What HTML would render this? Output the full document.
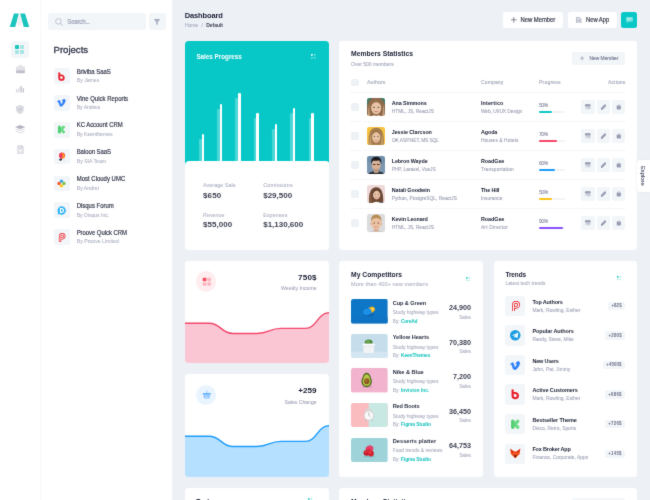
<!DOCTYPE html>
<html>
<head>
<meta charset="utf-8">
<title>Dashboard</title>
<style>
*{box-sizing:border-box;margin:0;padding:0}
html,body{width:650px;height:500px;overflow:hidden}
body{background:#edf0f5;font-family:"Liberation Sans",sans-serif;color:#181c32;position:relative}
#w{position:absolute;left:0;top:0;width:650px;height:500px;overflow:hidden;background:#edf0f5;will-change:transform;transform:translateZ(0);filter:url(#soft)}
.abs{position:absolute}
.t{position:absolute;white-space:nowrap;line-height:1}
</style>
</head>
<body>
<svg width="0" height="0" style="position:absolute"><defs><filter id="soft" x="0" y="0" width="100%" height="100%" color-interpolation-filters="sRGB"><feConvolveMatrix order="3" kernelMatrix="0.02 0.065 0.02 0.065 0.66 0.065 0.02 0.065 0.02" divisor="1" edgeMode="duplicate" preserveAlpha="true"/></filter></defs></svg>
<div id="w">
<div class="abs" style="left:0.00px;top:0.00px;width:41.00px;height:500.00px;background:#fff;border-radius:0px;"></div>
<div class="abs" style="left:40.00px;top:0.00px;width:0.60px;height:500.00px;background:#f8f9fb;border-radius:0px;"></div>
<svg class="abs" style="left:8.90px;top:12.70px;" preserveAspectRatio="none" width="21" height="14.4" viewBox="0 0 42 31"><path d="M19 2 L23 2 L27 21 L21 29 L15 21 Z" fill="#eeeef2" opacity=".8"/><path d="M10 1 L19.5 1 L12.5 30 L1.5 30 Z" fill="#1bc5bd"/><path d="M22.5 1 L32 1 L40.5 30 L29.5 30 Z" fill="#1bc5bd"/></svg>
<div class="abs" style="left:11.20px;top:40.50px;width:17.40px;height:17.10px;background:#f3f6f9;border-radius:2.5px;"></div>
<svg class="abs" style="left:15.40px;top:44.80px;" width="9" height="9" viewBox="0 0 18 18"><rect x="0" y="0" width="8" height="8" rx="1.5" fill="#1bc5bd"/><rect x="10" y="0" width="8" height="8" rx="1.5" fill="#1bc5bd" opacity=".35"/><rect x="0" y="10" width="8" height="8" rx="1.5" fill="#1bc5bd" opacity=".35"/><rect x="10" y="10" width="8" height="8" rx="1.5" fill="#1bc5bd" opacity=".35"/></svg>
<svg class="abs" style="left:15.50px;top:65.00px;" width="9" height="8.5" viewBox="0 0 18 17"><path d="M6 3 V1.5 Q6 0.5 7 0.5 H11 Q12 0.5 12 1.5 V3" fill="none" stroke="#b5b5c3" stroke-width="1.4" opacity=".7"/><rect x="0" y="3" width="18" height="9" rx="2" fill="#b5b5c3" opacity=".4"/><path d="M0 11 H18 V14.5 Q18 16.5 16 16.5 H2 Q0 16.5 0 14.5 Z" fill="#b5b5c3" opacity=".85"/></svg>
<svg class="abs" style="left:16.00px;top:86.30px;" width="8.2" height="6.4" viewBox="0 0 16 12.5"><rect x="0" y="6" width="2.4" height="6.5" rx="1" fill="#b5b5c3" opacity=".55"/><rect x="4.4" y="3" width="2.4" height="9.5" rx="1" fill="#b5b5c3" opacity=".55"/><rect x="8.8" y="0" width="2.4" height="12.5" rx="1" fill="#b5b5c3"/><rect x="13.2" y="4" width="2.4" height="8.5" rx="1" fill="#b5b5c3" opacity=".85"/></svg>
<svg class="abs" style="left:16.20px;top:104.80px;" width="7.8" height="9.2" viewBox="0 0 16 19"><path d="M0 2.5 L8 0 L16 2.5 V9 Q16 15.5 8 19 Q0 15.5 0 9 Z" fill="#b5b5c3" opacity=".5"/><path d="M5 9 L7.3 11 L11.3 7" fill="none" stroke="#b5b5c3" stroke-width="1.8" stroke-linecap="round"/></svg>
<svg class="abs" style="left:15.10px;top:125.00px;" width="10.2" height="9" viewBox="0 0 19 17"><path d="M9.5 0 L19 4 L9.5 8 L0 4 Z" fill="#b5b5c3"/><path d="M0 8 L9.5 12 L19 8 L16.5 7 L9.5 10 L2.5 7 Z" fill="#b5b5c3" opacity=".45"/><path d="M0 12 L9.5 16 L19 12 L16.5 11 L9.5 14 L2.5 11 Z" fill="#b5b5c3" opacity=".45"/></svg>
<svg class="abs" style="left:16.80px;top:144.80px;" width="7" height="9.2" viewBox="0 0 14 18"><path d="M2 0 H9 L14 5 V16 Q14 18 12 18 H2 Q0 18 0 16 V2 Q0 0 2 0 Z" fill="#b5b5c3" opacity=".4"/><path d="M9 0 L14 5 H10.5 Q9 5 9 3.5 Z" fill="#b5b5c3" opacity=".6"/><rect x="3" y="10.5" width="8" height="2" rx="1" fill="#fff"/><rect x="6" y="9.5" width="2" height="4" rx="1" fill="#fff" opacity=".6"/></svg>
<div class="abs" style="left:40.50px;top:0.00px;width:131.50px;height:500.00px;background:#fff;border-radius:0px;"></div>
<div class="abs" style="left:47.60px;top:13.00px;width:98.40px;height:17.00px;background:#f3f6f9;border-radius:2.5px;"></div>
<svg class="abs" style="left:54.50px;top:17.50px;" width="8" height="8" viewBox="0 0 16 16"><circle cx="6.8" cy="6.8" r="5.6" fill="none" stroke="#a4a8bd" stroke-width="1.3"/><path d="M11 11 L14.6 14.6" stroke="#a4a8bd" stroke-width="1.5" stroke-linecap="round"/></svg>
<div class="t" style="left:67.30px;top:19.07px;font-size:6.1px;color:#9da0b6;letter-spacing:-0.202px;-webkit-text-stroke:0.18px #9da0b6;transform:scaleY(1.09);">Search...</div>
<div class="abs" style="left:148.60px;top:13.00px;width:17.00px;height:17.00px;background:#f3f6f9;border-radius:2.5px;"></div>
<svg class="abs" style="left:154.20px;top:18.60px;" width="6" height="6" viewBox="0 0 12 12"><path d="M0.5 0 H11.5 Q12.4 0.6 11.6 1.6 L7.6 6 V11 Q7 12.2 6 11.6 L4.4 10.4 V6 L0.4 1.6 Q-0.4 0.6 0.5 0 Z" fill="#a9adc1"/></svg>
<div class="t" style="left:53.50px;top:45.11px;font-size:9.6px;color:#2f3347;letter-spacing:-0.011px;-webkit-text-stroke:0.28px #2f3347;">Projects</div>
<div class="abs" style="left:53.70px;top:68.20px;width:16.00px;height:15.70px;background:#f3f6f9;border-radius:2px;"></div>
<svg class="abs" style="left:57.40px;top:71.60px;" width="9" height="9" viewBox="0 0 10 10"><path d="M2.5 1.2 V6.3 A2.5 2.5 0 1 0 5 3.8 H4.1" fill="none" stroke="#e9212d" stroke-width="2.1" stroke-linecap="round"/></svg>
<div class="t" style="left:76.70px;top:69.65px;font-size:5.95px;color:#2f3347;letter-spacing:-0.027px;-webkit-text-stroke:0.16px #2f3347;transform:scaleY(1.09);">Briviba SaaS</div>
<div class="t" style="left:76.70px;top:78.34px;font-size:5.2px;color:#adb0c2;letter-spacing:-0.018px;-webkit-text-stroke:0.08px #adb0c2;transform:scaleY(1.09);">By James</div>
<div class="abs" style="left:53.70px;top:95.05px;width:16.00px;height:15.70px;background:#f3f6f9;border-radius:2px;"></div>
<svg class="abs" style="left:57.40px;top:98.45px;" width="9" height="9" viewBox="0 0 10 10"><path d="M0.5 3.9 Q2.2 1.6 3.2 3 Q3.8 4 4.3 6.6 Q4.5 7.4 5.2 6.6 Q7 4.4 6.7 3.6 Q6.4 3 5.4 3.5 Q6.4 0.9 8.4 1.4 Q10.3 2.2 8.4 5.6 Q6.2 9.4 4.4 9.4 Q3 9.4 2.4 6.8 Q1.9 4.6 1.5 4.4 Q1.2 4.3 0.9 4.5 Z" fill="#2f80fa" stroke="#2f80fa" stroke-width=".5" stroke-linejoin="round"/></svg>
<div class="t" style="left:76.70px;top:96.50px;font-size:5.95px;color:#2f3347;letter-spacing:0.021px;-webkit-text-stroke:0.16px #2f3347;transform:scaleY(1.09);">Vine Quick Reports</div>
<div class="t" style="left:76.70px;top:105.19px;font-size:5.2px;color:#adb0c2;letter-spacing:-0.074px;-webkit-text-stroke:0.08px #adb0c2;transform:scaleY(1.09);">By Andrea</div>
<div class="abs" style="left:53.70px;top:121.90px;width:16.00px;height:15.70px;background:#f3f6f9;border-radius:2px;"></div>
<svg class="abs" style="left:57.40px;top:125.30px;" width="9" height="9" viewBox="0 0 10 10"><path d="M7.3 2.2 L4.6 5 L7.3 7.8" fill="none" stroke="#69db86" stroke-width="3.2" stroke-linecap="round" stroke-linejoin="round"/><rect x="1" y="0.5" width="3.4" height="9" rx="1.7" fill="#55cf74"/></svg>
<div class="t" style="left:76.70px;top:123.35px;font-size:5.95px;color:#2f3347;letter-spacing:-0.015px;-webkit-text-stroke:0.16px #2f3347;transform:scaleY(1.09);">KC Account CRM</div>
<div class="t" style="left:76.70px;top:132.04px;font-size:5.2px;color:#adb0c2;letter-spacing:-0.059px;-webkit-text-stroke:0.08px #adb0c2;transform:scaleY(1.09);">By Keenthemes</div>
<div class="abs" style="left:53.70px;top:148.75px;width:16.00px;height:15.70px;background:#f3f6f9;border-radius:2px;"></div>
<svg class="abs" style="left:57.40px;top:152.15px;" width="9" height="9" viewBox="0 0 10 10"><circle cx="5.6" cy="4" r="3.4" fill="#f2355f"/><path d="M4.9 0.8 Q7.3 3.4 5.4 7.2 Q7.2 7.4 8.3 6 Q9.4 2.6 6.2 0.7 Z" fill="#fa9f1c"/><path d="M2.3 8 L3.6 7.2 L5.6 7.6 V8.8 Q4.2 10 2.9 9.4 Z" fill="#2f3448"/><circle cx="8" cy="9" r=".6" fill="#c9ccd8"/></svg>
<div class="t" style="left:76.70px;top:150.20px;font-size:5.95px;color:#2f3347;letter-spacing:-0.044px;-webkit-text-stroke:0.16px #2f3347;transform:scaleY(1.09);">Baloon SaaS</div>
<div class="t" style="left:76.70px;top:158.89px;font-size:5.2px;color:#adb0c2;letter-spacing:-0.017px;-webkit-text-stroke:0.08px #adb0c2;transform:scaleY(1.09);">By SIA Team</div>
<div class="abs" style="left:53.70px;top:175.60px;width:16.00px;height:15.70px;background:#f3f6f9;border-radius:2px;"></div>
<svg class="abs" style="left:57.40px;top:179.00px;" width="9" height="9" viewBox="0 0 10 10"><circle cx="5" cy="2.4" r="1.9" fill="#35a7e8"/><circle cx="2.3" cy="5" r="1.9" fill="#f2592a"/><circle cx="7.7" cy="5" r="1.9" fill="#7bc043"/><circle cx="5" cy="7.6" r="1.9" fill="#fdc618"/><rect x="3.6" y="3.6" width="2.8" height="2.8" fill="#fdc618" opacity=".0"/></svg>
<div class="t" style="left:76.70px;top:177.05px;font-size:5.95px;color:#2f3347;letter-spacing:0.023px;-webkit-text-stroke:0.16px #2f3347;transform:scaleY(1.09);">Most Cloudy UMC</div>
<div class="t" style="left:76.70px;top:185.74px;font-size:5.2px;color:#adb0c2;letter-spacing:-0.007px;-webkit-text-stroke:0.08px #adb0c2;transform:scaleY(1.09);">By Andrei</div>
<div class="abs" style="left:53.70px;top:202.45px;width:16.00px;height:15.70px;background:#f3f6f9;border-radius:2px;"></div>
<svg class="abs" style="left:57.40px;top:205.85px;" width="9" height="9" viewBox="0 0 10 10"><path d="M5.2 0.4 A4.6 4.6 0 1 1 2.6 8.8 L0.4 9.5 L1.3 7.4 A4.6 4.6 0 0 1 5.2 0.4 Z" fill="#2eb4f5"/><path d="M3.9 2.9 H5.1 A2.1 2.1 0 0 1 5.1 7.1 H3.9 Z" fill="none" stroke="#fff" stroke-width="1.25"/></svg>
<div class="t" style="left:76.70px;top:203.90px;font-size:5.95px;color:#2f3347;letter-spacing:0.006px;-webkit-text-stroke:0.16px #2f3347;transform:scaleY(1.09);">Disqus Forum</div>
<div class="t" style="left:76.70px;top:212.59px;font-size:5.2px;color:#adb0c2;letter-spacing:-0.041px;-webkit-text-stroke:0.08px #adb0c2;transform:scaleY(1.09);">By Disqus Inc.</div>
<div class="abs" style="left:53.70px;top:229.30px;width:16.00px;height:15.70px;background:#f3f6f9;border-radius:2px;"></div>
<svg class="abs" style="left:57.40px;top:232.70px;" width="9" height="9" viewBox="0 0 10 10"><path d="M3.4 9.2 V3.6 A2.4 2.4 0 0 1 8.2 3.6 A2.4 2.4 0 0 1 5.8 6 H3.6" fill="none" stroke="#e8222c" stroke-width="2.6" stroke-linecap="round" stroke-linejoin="round"/><path d="M3.4 9.2 V3.6 A2.4 2.4 0 0 1 8.2 3.6 A2.4 2.4 0 0 1 5.8 6 H4.4" fill="none" stroke="#fff" stroke-width="1" stroke-linecap="round" stroke-linejoin="round"/></svg>
<div class="t" style="left:76.70px;top:230.75px;font-size:5.95px;color:#2f3347;letter-spacing:-0.041px;-webkit-text-stroke:0.16px #2f3347;transform:scaleY(1.09);">Proove Quick CRM</div>
<div class="t" style="left:76.70px;top:239.44px;font-size:5.2px;color:#adb0c2;letter-spacing:0.000px;-webkit-text-stroke:0.08px #adb0c2;transform:scaleY(1.09);">By Proove Limited</div>
<div class="t" style="left:184.80px;top:11.72px;font-size:7.5px;color:#181c32;font-weight:bold;letter-spacing:-0.147px;transform:scaleY(1.08);">Dashboard</div>
<div class="t" style="left:184.90px;top:23.10px;font-size:5.1px;color:#a4a8bf;letter-spacing:-0.101px;-webkit-text-stroke:0.08px #a4a8bf;transform:scaleY(1.09);">Home</div>
<div class="t" style="left:201.60px;top:23.10px;font-size:5.1px;color:#a4a8bf;-webkit-text-stroke:0.08px #a4a8bf;transform:scaleY(1.09);">/</div>
<div class="t" style="left:206.20px;top:23.15px;font-size:5.0px;color:#3f4254;font-weight:bold;letter-spacing:-0.024px;transform:scaleY(1.09);">Default</div>
<div class="abs" style="left:502.80px;top:11.90px;width:60.60px;height:16.30px;background:#fff;border-radius:2.5px;"></div>
<svg class="abs" style="left:511.30px;top:17.30px;" width="5.6" height="5.6" viewBox="0 0 10 10"><path d="M5 0.5 V9.5 M0.5 5 H9.5" stroke="#3f4254" stroke-width="1.1" stroke-linecap="round"/></svg>
<div class="t" style="left:520.60px;top:17.77px;font-size:5.9px;color:#3f4254;letter-spacing:-0.053px;-webkit-text-stroke:0.2px #3f4254;transform:scaleY(1.09);">New Member</div>
<div class="abs" style="left:568.00px;top:11.90px;width:48.80px;height:16.30px;background:#fff;border-radius:2.5px;"></div>
<svg class="abs" style="left:576.40px;top:16.80px;" width="5.2" height="6.6" viewBox="0 0 10 13"><path d="M1.5 0.5 H6.5 L9.5 3.5 V11.5 Q9.5 12.5 8.5 12.5 H1.5 Q0.5 12.5 0.5 11.5 V1.5 Q0.5 0.5 1.5 0.5 Z" fill="#e4e6ee" stroke="#7e8299" stroke-width="1.1"/><path d="M2.8 6 H7.2 M2.8 8.5 H7.2" stroke="#7e8299" stroke-width="1"/></svg>
<div class="t" style="left:586.00px;top:17.77px;font-size:5.9px;color:#3f4254;letter-spacing:-0.069px;-webkit-text-stroke:0.2px #3f4254;transform:scaleY(1.09);">New App</div>
<div class="abs" style="left:621.20px;top:11.90px;width:16.00px;height:16.30px;background:#08c8c7;border-radius:2.5px;"></div>
<svg class="abs" style="left:625.70px;top:17.00px;" width="7" height="6.4" viewBox="0 0 14 13"><path d="M1.5 0 H12.5 Q14 0 14 1.5 V8 Q14 9.5 12.5 9.5 H5 L2 12.5 V9.5 H1.5 Q0 9.5 0 8 V1.5 Q0 0 1.5 0 Z" fill="#fff" opacity=".4"/><path d="M3 3.2 H11 M3 6 H8" stroke="#fff" stroke-width="1.3" stroke-linecap="round" opacity=".85"/></svg>
<div class="abs" style="left:184.5px;top:40.6px;width:144.4px;height:209.2px;background:#fff;border-radius:3.5px;overflow:hidden">
<div class="abs" style="left:0;top:0;width:145px;height:130px;background:#08c8c7"></div>
<div class="abs" style="left:14.5px;top:98.7px;width:2.7px;height:26.7px;background:#fff;opacity:.27;border-radius:1px 1px 0 0"></div>
<div class="abs" style="left:17.1px;top:93.7px;width:2.5px;height:29.7px;background:#fff;border-radius:1.2px 1.2px 0 0"></div>
<div class="abs" style="left:32.7px;top:68.0px;width:2.7px;height:57.4px;background:#fff;opacity:.27;border-radius:1px 1px 0 0"></div>
<div class="abs" style="left:35.3px;top:63.0px;width:2.5px;height:60.4px;background:#fff;border-radius:1.2px 1.2px 0 0"></div>
<div class="abs" style="left:50.9px;top:57.6px;width:2.7px;height:67.8px;background:#fff;opacity:.27;border-radius:1px 1px 0 0"></div>
<div class="abs" style="left:53.5px;top:52.6px;width:2.5px;height:70.8px;background:#fff;border-radius:1.2px 1.2px 0 0"></div>
<div class="abs" style="left:69.3px;top:77.9px;width:2.7px;height:47.5px;background:#fff;opacity:.27;border-radius:1px 1px 0 0"></div>
<div class="abs" style="left:71.9px;top:72.9px;width:2.5px;height:50.5px;background:#fff;border-radius:1.2px 1.2px 0 0"></div>
<div class="abs" style="left:87.6px;top:88.3px;width:2.7px;height:37.1px;background:#fff;opacity:.27;border-radius:1px 1px 0 0"></div>
<div class="abs" style="left:90.2px;top:83.3px;width:2.5px;height:40.1px;background:#fff;border-radius:1.2px 1.2px 0 0"></div>
<div class="abs" style="left:105.8px;top:72.7px;width:2.7px;height:52.7px;background:#fff;opacity:.27;border-radius:1px 1px 0 0"></div>
<div class="abs" style="left:108.4px;top:67.7px;width:2.5px;height:55.7px;background:#fff;border-radius:1.2px 1.2px 0 0"></div>
<div class="abs" style="left:124.0px;top:77.9px;width:2.7px;height:47.5px;background:#fff;opacity:.27;border-radius:1px 1px 0 0"></div>
<div class="abs" style="left:126.6px;top:72.9px;width:2.5px;height:50.5px;background:#fff;border-radius:1.2px 1.2px 0 0"></div>
<div class="abs" style="left:0;top:120.3px;width:145px;height:90px;background:#fff;border-radius:4.2px 4.2px 0 0"></div>
</div>
<div class="t" style="left:196.40px;top:53.96px;font-size:6.3px;color:#fff;font-weight:bold;letter-spacing:-0.002px;transform:scaleY(1.05);">Sales Progress</div>
<svg class="abs" style="left:311.30px;top:54.20px;" width="4.8" height="4.8" viewBox="0 0 10 10"><rect x="0" y="0" width="3.8" height="3.8" rx="1" fill="#fff"/><rect x="6" y="0" width="3.8" height="3.8" rx="1" fill="#fff" opacity=".4"/><rect x="0" y="6" width="3.8" height="3.8" rx="1" fill="#fff" opacity=".4"/><rect x="6" y="6" width="3.8" height="3.8" rx="1" fill="#fff" opacity=".4"/></svg>
<div class="t" style="left:203.10px;top:183.14px;font-size:5.4px;color:#adb0c2;letter-spacing:0.025px;-webkit-text-stroke:0.08px #adb0c2;transform:scaleY(1.09);">Average Sale</div>
<div class="t" style="left:203.10px;top:191.76px;font-size:8px;color:#3f4254;font-weight:bold;letter-spacing:0.068px;">$650</div>
<div class="t" style="left:263.20px;top:183.04px;font-size:5.4px;color:#adb0c2;letter-spacing:0.177px;-webkit-text-stroke:0.08px #adb0c2;transform:scaleY(1.09);">Comissions</div>
<div class="t" style="left:263.20px;top:191.76px;font-size:8px;color:#3f4254;font-weight:bold;letter-spacing:0.014px;">$29,500</div>
<div class="t" style="left:203.10px;top:212.74px;font-size:5.4px;color:#adb0c2;letter-spacing:-0.019px;-webkit-text-stroke:0.08px #adb0c2;transform:scaleY(1.09);">Revenue</div>
<div class="t" style="left:203.10px;top:221.06px;font-size:8px;color:#3f4254;font-weight:bold;letter-spacing:0.014px;">$55,000</div>
<div class="t" style="left:263.20px;top:212.74px;font-size:5.4px;color:#adb0c2;letter-spacing:0.069px;-webkit-text-stroke:0.08px #adb0c2;transform:scaleY(1.09);">Expenses</div>
<div class="t" style="left:263.20px;top:221.06px;font-size:8px;color:#3f4254;font-weight:bold;letter-spacing:-0.004px;">$1,130,600</div>
<div class="abs" style="left:338.90px;top:40.60px;width:298.30px;height:209.30px;background:#fff;border-radius:3.5px;"></div>
<div class="t" style="left:351.00px;top:51.30px;font-size:6.8px;color:#181c32;font-weight:bold;letter-spacing:0.001px;transform:scaleY(1.05);">Members Statistics</div>
<div class="t" style="left:351.00px;top:62.35px;font-size:5px;color:#a4a8bd;letter-spacing:-0.006px;-webkit-text-stroke:0.1px #a4a8bd;transform:scaleY(1.09);">Over 500 members</div>
<div class="abs" style="left:572.00px;top:51.50px;width:53.40px;height:13.50px;background:#f3f6f9;border-radius:2px;"></div>
<svg class="abs" style="left:580.00px;top:56.20px;" width="4.4" height="4.4" viewBox="0 0 10 10"><path d="M5 0.5 V9.5 M0.5 5 H9.5" stroke="#777b92" stroke-width="1.1" stroke-linecap="round"/></svg>
<div class="t" style="left:589.50px;top:56.70px;font-size:4.9px;color:#777b92;letter-spacing:-0.015px;-webkit-text-stroke:0.15px #777b92;transform:scaleY(1.09);">New Member</div>
<div class="abs" style="left:351.20px;top:78.70px;width:7.60px;height:7.80px;background:#eef1f5;border-radius:1.8px;"></div>
<div class="t" style="left:366.90px;top:80.40px;font-size:5.1px;color:#a1a5b9;letter-spacing:0.154px;-webkit-text-stroke:0.1px #a1a5b9;transform:scaleY(1.09);">Authors</div>
<div class="t" style="left:480.90px;top:80.40px;font-size:5.1px;color:#a1a5b9;letter-spacing:0.112px;-webkit-text-stroke:0.1px #a1a5b9;transform:scaleY(1.09);">Company</div>
<div class="t" style="left:539.00px;top:80.40px;font-size:5.1px;color:#a1a5b9;letter-spacing:0.156px;-webkit-text-stroke:0.1px #a1a5b9;transform:scaleY(1.09);">Progress</div>
<div class="t" style="left:607.90px;top:80.40px;font-size:5.1px;color:#a1a5b9;letter-spacing:0.129px;-webkit-text-stroke:0.1px #a1a5b9;transform:scaleY(1.09);">Actions</div>
<div class="abs" style="left:351.2px;top:92.20px;width:274.2px;height:0;border-top:0.6px dotted #eef0f5"></div>
<div class="abs" style="left:351.20px;top:103.00px;width:7.60px;height:7.70px;background:#eef1f5;border-radius:1.8px;"></div>
<svg class="abs" style="left:366.7px;top:97.60px;border-radius:2.2px" width="18.4" height="18.4" viewBox="0 0 20 20"><defs><filter id="bl0" x="-10%" y="-10%" width="120%" height="120%"><feGaussianBlur stdDeviation=".55"/></filter></defs><g filter="url(#bl0)"><rect width="20" height="20" fill="#4d7f6c"/><rect x="0" y="0" width="20" height="8" fill="#3f7a63"/><g transform="translate(10 10.6) scale(1.42) translate(-10 -10.2)"><path d="M3 20 Q1.5 7 6 3.5 Q10 0.8 14 3.5 Q18.5 7 17 20 Z" fill="#8e6a4c"/><path d="M4 20 Q3 12 5 7 Q4 14 6.5 20 Z M16 20 Q17 12 15 7 Q16 14 13.5 20 Z" fill="#c9a47c"/><ellipse cx="10" cy="10.2" rx="3.9" ry="5" fill="#e9c4a6"/><path d="M5.8 9 Q6.5 3.8 10 4 Q13.5 3.8 14.2 9 Q12.5 6 10 6 Q7.5 6 5.8 9 Z" fill="#94704f"/><path d="M5 20 Q6 16 8.5 15.5 L10 16.5 L11.5 15.5 Q14 16 15 20 Z" fill="#e3bea0"/><ellipse cx="8.3" cy="9.8" rx=".8" ry=".45" fill="#5b4336"/><ellipse cx="11.7" cy="9.8" rx=".8" ry=".45" fill="#5b4336"/><path d="M8.7 13 Q10 13.8 11.3 13 Q10 13.3 8.7 13 Z" fill="#c97a70" stroke="#c97a70" stroke-width=".4"/></g></g></svg>
<div class="t" style="left:391.70px;top:101.14px;font-size:5.4px;color:#181c32;font-weight:bold;letter-spacing:-0.091px;transform:scaleY(1.09);">Ana Simmons</div>
<div class="t" style="left:391.70px;top:109.80px;font-size:4.9px;color:#9a9db2;letter-spacing:-0.039px;-webkit-text-stroke:0.08px #9a9db2;transform:scaleY(1.09);">HTML, JS, ReactJS</div>
<div class="t" style="left:480.90px;top:101.14px;font-size:5.4px;color:#181c32;font-weight:bold;letter-spacing:0.150px;transform:scaleY(1.09);">Intertico</div>
<div class="t" style="left:480.90px;top:109.80px;font-size:4.9px;color:#9a9db2;letter-spacing:-0.056px;-webkit-text-stroke:0.08px #9a9db2;transform:scaleY(1.09);">Web, UI/UX Design</div>
<div class="t" style="left:539.00px;top:102.85px;font-size:5.0px;color:#7e8299;letter-spacing:-0.454px;-webkit-text-stroke:0.08px #7e8299;transform:scaleY(1.09);">50%</div>
<div class="abs" style="left:539.00px;top:110.70px;width:26.20px;height:1.90px;background:#f1f3f7;border-radius:1px;"></div>
<div class="abs" style="left:539.00px;top:110.70px;width:13.10px;height:1.90px;background:#0bc8c6;border-radius:1px;"></div>
<div class="abs" style="left:581.20px;top:100.20px;width:13.40px;height:13.50px;background:#f3f6f9;border-radius:2px;"></div>
<svg class="abs" style="left:585.10px;top:104.10px;" width="5.6" height="5.6" viewBox="0 0 10 10"><rect x="0" y="0.4" width="10" height="4" rx="1.2" fill="#8b8fa7"/><rect x="1" y="1.6" width="8" height="1" rx=".5" fill="#f3f6f9" opacity=".35"/><rect x="0.6" y="5" width="9.4" height="4.4" rx="1.2" fill="#8b8fa7" opacity=".38"/><circle cx="2.4" cy="7.2" r="1" fill="#fff"/></svg>
<div class="abs" style="left:596.70px;top:100.20px;width:13.40px;height:13.50px;background:#f3f6f9;border-radius:2px;"></div>
<svg class="abs" style="left:600.60px;top:104.10px;" width="5.6" height="5.6" viewBox="0 0 10 10"><path d="M-0.4 10.2 L0.5 6.6 L6 1.1 Q7.2 -0.1 8.8 1.3 Q10.2 2.9 9 4.1 L3.5 9.5 Z" fill="#9a9db3"/><path d="M-0.4 10.2 L0.4 7.1 L2.8 9.4 Z" fill="#7e8299"/></svg>
<div class="abs" style="left:612.00px;top:100.20px;width:13.40px;height:13.50px;background:#f3f6f9;border-radius:2px;"></div>
<svg class="abs" style="left:615.90px;top:104.10px;" width="5.6" height="5.6" viewBox="0 0 10 10"><path d="M1.2 3.2 H8.8 V8.6 Q8.8 10 7.4 10 H2.6 Q1.2 10 1.2 8.6 Z" fill="#9a9db3"/><rect x="1.2" y="1.6" width="7.6" height="1.1" rx=".5" fill="#8f93a8" opacity=".55"/><rect x="3.8" y="0.6" width="2.4" height="1" rx=".4" fill="#8f93a8" opacity=".55"/></svg>
<div class="abs" style="left:351.2px;top:121.25px;width:274.2px;height:0;border-top:0.6px dotted #eef0f5"></div>
<div class="abs" style="left:351.20px;top:132.05px;width:7.60px;height:7.70px;background:#eef1f5;border-radius:1.8px;"></div>
<svg class="abs" style="left:366.7px;top:126.65px;border-radius:2.2px" width="18.4" height="18.4" viewBox="0 0 20 20"><defs><filter id="bl1" x="-10%" y="-10%" width="120%" height="120%"><feGaussianBlur stdDeviation=".55"/></filter></defs><g filter="url(#bl1)"><rect width="20" height="20" fill="#f5c443"/><g transform="translate(10 10.6) scale(1.3) translate(-10 -10.2)"><path d="M4 20 Q2.5 7 6.5 3.8 Q10 1.5 13.5 3.8 Q17.5 7 16 20 Z" fill="#a67d4e"/><path d="M4.5 20 Q3.8 12 5.5 7 Q5 14 6.8 20 Z M15.5 20 Q16.2 12 14.5 7 Q15 14 13.2 20 Z" fill="#c9a06a"/><ellipse cx="10" cy="10.4" rx="3.4" ry="4.8" fill="#e8c2a3"/><path d="M6.5 9 Q7 4.5 10 4.5 Q13 4.5 13.5 9 Q12 6.5 10 6.2 Q8 6.5 6.5 9 Z" fill="#9a7346"/><path d="M6 20 Q7 17.2 10 17.2 Q13 17.2 14 20 Z" fill="#f0ede8"/><ellipse cx="8.5" cy="10" rx=".7" ry=".4" fill="#5b4336"/><ellipse cx="11.5" cy="10" rx=".7" ry=".4" fill="#5b4336"/><path d="M8.9 13.2 Q10 13.8 11.1 13.2" fill="none" stroke="#c97a70" stroke-width=".6"/></g></g></svg>
<div class="t" style="left:391.70px;top:130.19px;font-size:5.4px;color:#181c32;font-weight:bold;letter-spacing:-0.059px;transform:scaleY(1.09);">Jessie Clarcson</div>
<div class="t" style="left:391.70px;top:138.85px;font-size:4.9px;color:#9a9db2;letter-spacing:-0.130px;-webkit-text-stroke:0.08px #9a9db2;transform:scaleY(1.09);">C#, ASP.NET, MS SQL</div>
<div class="t" style="left:480.90px;top:130.19px;font-size:5.4px;color:#181c32;font-weight:bold;letter-spacing:-0.075px;transform:scaleY(1.09);">Agoda</div>
<div class="t" style="left:480.90px;top:138.85px;font-size:4.9px;color:#9a9db2;letter-spacing:0.072px;-webkit-text-stroke:0.08px #9a9db2;transform:scaleY(1.09);">Houses &amp; Hotels</div>
<div class="t" style="left:539.00px;top:131.90px;font-size:5.0px;color:#7e8299;letter-spacing:-0.454px;-webkit-text-stroke:0.08px #7e8299;transform:scaleY(1.09);">70%</div>
<div class="abs" style="left:539.00px;top:139.75px;width:26.20px;height:1.90px;background:#f1f3f7;border-radius:1px;"></div>
<div class="abs" style="left:539.00px;top:139.75px;width:18.34px;height:1.90px;background:#f5466a;border-radius:1px;"></div>
<div class="abs" style="left:581.20px;top:129.25px;width:13.40px;height:13.50px;background:#f3f6f9;border-radius:2px;"></div>
<svg class="abs" style="left:585.10px;top:133.15px;" width="5.6" height="5.6" viewBox="0 0 10 10"><rect x="0" y="0.4" width="10" height="4" rx="1.2" fill="#8b8fa7"/><rect x="1" y="1.6" width="8" height="1" rx=".5" fill="#f3f6f9" opacity=".35"/><rect x="0.6" y="5" width="9.4" height="4.4" rx="1.2" fill="#8b8fa7" opacity=".38"/><circle cx="2.4" cy="7.2" r="1" fill="#fff"/></svg>
<div class="abs" style="left:596.70px;top:129.25px;width:13.40px;height:13.50px;background:#f3f6f9;border-radius:2px;"></div>
<svg class="abs" style="left:600.60px;top:133.15px;" width="5.6" height="5.6" viewBox="0 0 10 10"><path d="M-0.4 10.2 L0.5 6.6 L6 1.1 Q7.2 -0.1 8.8 1.3 Q10.2 2.9 9 4.1 L3.5 9.5 Z" fill="#9a9db3"/><path d="M-0.4 10.2 L0.4 7.1 L2.8 9.4 Z" fill="#7e8299"/></svg>
<div class="abs" style="left:612.00px;top:129.25px;width:13.40px;height:13.50px;background:#f3f6f9;border-radius:2px;"></div>
<svg class="abs" style="left:615.90px;top:133.15px;" width="5.6" height="5.6" viewBox="0 0 10 10"><path d="M1.2 3.2 H8.8 V8.6 Q8.8 10 7.4 10 H2.6 Q1.2 10 1.2 8.6 Z" fill="#9a9db3"/><rect x="1.2" y="1.6" width="7.6" height="1.1" rx=".5" fill="#8f93a8" opacity=".55"/><rect x="3.8" y="0.6" width="2.4" height="1" rx=".4" fill="#8f93a8" opacity=".55"/></svg>
<div class="abs" style="left:351.2px;top:150.30px;width:274.2px;height:0;border-top:0.6px dotted #eef0f5"></div>
<div class="abs" style="left:351.20px;top:161.10px;width:7.60px;height:7.70px;background:#eef1f5;border-radius:1.8px;"></div>
<svg class="abs" style="left:366.7px;top:155.70px;border-radius:2.2px" width="18.4" height="18.4" viewBox="0 0 20 20"><defs><filter id="bl2" x="-10%" y="-10%" width="120%" height="120%"><feGaussianBlur stdDeviation=".55"/></filter></defs><g filter="url(#bl2)"><rect width="20" height="20" fill="#7c97b2"/><rect x="0" y="0" width="20" height="7" fill="#6f8dab"/><g transform="translate(10 10.6) scale(1.32) translate(-10 -10.2)"><path d="M2 20 Q3 15.5 7.5 15 L12.5 15 Q17 15.5 18 20 Z" fill="#2a2d33"/><rect x="8.2" y="12.5" width="3.6" height="3.6" fill="#c9a084"/><ellipse cx="10" cy="9.6" rx="3.7" ry="4.8" fill="#d9b195"/><path d="M5.8 9.2 Q5 3 10 2.8 Q15 3 14.2 9.2 Q13.6 6 12 5.6 Q10 6.5 7.5 5.8 Q6.2 6.5 5.8 9.2 Z" fill="#1d1a1a"/><rect x="7.2" y="8.8" width="2.2" height=".7" fill="#2a2020"/><rect x="10.6" y="8.8" width="2.2" height=".7" fill="#2a2020"/><path d="M7.5 12.3 Q10 14.6 12.5 12.3 Q12 14.6 10 14.7 Q8 14.6 7.5 12.3 Z" fill="#8b6a58" opacity=".55"/></g></g></svg>
<div class="t" style="left:391.70px;top:159.24px;font-size:5.4px;color:#181c32;font-weight:bold;letter-spacing:-0.091px;transform:scaleY(1.09);">Lebron Wayde</div>
<div class="t" style="left:391.70px;top:167.90px;font-size:4.9px;color:#9a9db2;letter-spacing:-0.062px;-webkit-text-stroke:0.08px #9a9db2;transform:scaleY(1.09);">PHP, Laravel, VueJS</div>
<div class="t" style="left:480.90px;top:159.24px;font-size:5.4px;color:#181c32;font-weight:bold;letter-spacing:-0.034px;transform:scaleY(1.09);">RoadGee</div>
<div class="t" style="left:480.90px;top:167.90px;font-size:4.9px;color:#9a9db2;letter-spacing:0.122px;-webkit-text-stroke:0.08px #9a9db2;transform:scaleY(1.09);">Transportation</div>
<div class="t" style="left:539.00px;top:160.95px;font-size:5.0px;color:#7e8299;letter-spacing:-0.454px;-webkit-text-stroke:0.08px #7e8299;transform:scaleY(1.09);">60%</div>
<div class="abs" style="left:539.00px;top:168.80px;width:26.20px;height:1.90px;background:#f1f3f7;border-radius:1px;"></div>
<div class="abs" style="left:539.00px;top:168.80px;width:15.72px;height:1.90px;background:#1b9cfc;border-radius:1px;"></div>
<div class="abs" style="left:581.20px;top:158.30px;width:13.40px;height:13.50px;background:#f3f6f9;border-radius:2px;"></div>
<svg class="abs" style="left:585.10px;top:162.20px;" width="5.6" height="5.6" viewBox="0 0 10 10"><rect x="0" y="0.4" width="10" height="4" rx="1.2" fill="#8b8fa7"/><rect x="1" y="1.6" width="8" height="1" rx=".5" fill="#f3f6f9" opacity=".35"/><rect x="0.6" y="5" width="9.4" height="4.4" rx="1.2" fill="#8b8fa7" opacity=".38"/><circle cx="2.4" cy="7.2" r="1" fill="#fff"/></svg>
<div class="abs" style="left:596.70px;top:158.30px;width:13.40px;height:13.50px;background:#f3f6f9;border-radius:2px;"></div>
<svg class="abs" style="left:600.60px;top:162.20px;" width="5.6" height="5.6" viewBox="0 0 10 10"><path d="M-0.4 10.2 L0.5 6.6 L6 1.1 Q7.2 -0.1 8.8 1.3 Q10.2 2.9 9 4.1 L3.5 9.5 Z" fill="#9a9db3"/><path d="M-0.4 10.2 L0.4 7.1 L2.8 9.4 Z" fill="#7e8299"/></svg>
<div class="abs" style="left:612.00px;top:158.30px;width:13.40px;height:13.50px;background:#f3f6f9;border-radius:2px;"></div>
<svg class="abs" style="left:615.90px;top:162.20px;" width="5.6" height="5.6" viewBox="0 0 10 10"><path d="M1.2 3.2 H8.8 V8.6 Q8.8 10 7.4 10 H2.6 Q1.2 10 1.2 8.6 Z" fill="#9a9db3"/><rect x="1.2" y="1.6" width="7.6" height="1.1" rx=".5" fill="#8f93a8" opacity=".55"/><rect x="3.8" y="0.6" width="2.4" height="1" rx=".4" fill="#8f93a8" opacity=".55"/></svg>
<div class="abs" style="left:351.2px;top:179.35px;width:274.2px;height:0;border-top:0.6px dotted #eef0f5"></div>
<div class="abs" style="left:351.20px;top:190.15px;width:7.60px;height:7.70px;background:#eef1f5;border-radius:1.8px;"></div>
<svg class="abs" style="left:366.7px;top:184.75px;border-radius:2.2px" width="18.4" height="18.4" viewBox="0 0 20 20"><defs><filter id="bl3" x="-10%" y="-10%" width="120%" height="120%"><feGaussianBlur stdDeviation=".55"/></filter></defs><g filter="url(#bl3)"><rect width="20" height="20" fill="#efd9d8"/><g transform="translate(10 10.6) scale(1.14) translate(-10 -10.2)"><path d="M3.5 20 Q2 8 6.5 4.2 Q10 1.8 13.8 4.4 Q17.5 8 16.5 20 Z" fill="#6e4a35"/><path d="M4 20 Q3.4 13 5 8 Q4.8 14 6.6 20 Z" fill="#8a6147"/><ellipse cx="10.4" cy="10" rx="3.5" ry="4.7" fill="#e9c3a8"/><path d="M6.8 9.4 Q6.6 4.4 10.6 4.4 Q14.2 4.6 14 9.6 Q12.8 6.6 10.5 6.2 Q8.4 6.6 6.8 9.4 Z" fill="#5f3f2c"/><path d="M5.5 20 Q6.5 16.8 10.2 16.8 Q14 16.8 15 20 Z" fill="#f7f5f3"/><path d="M14 17.4 L16.2 17.8 L16.2 20 L13.6 20 Z" fill="#4aa3e6"/><ellipse cx="8.9" cy="9.6" rx=".7" ry=".4" fill="#4b362b"/><ellipse cx="12" cy="9.6" rx=".7" ry=".4" fill="#4b362b"/><path d="M8.8 12.4 Q10.4 14 12 12.4 Q10.4 13 8.8 12.4 Z" fill="#fff" stroke="#c46f68" stroke-width=".4"/></g></g></svg>
<div class="t" style="left:391.70px;top:188.29px;font-size:5.4px;color:#181c32;font-weight:bold;letter-spacing:-0.077px;transform:scaleY(1.09);">Natali Goodwin</div>
<div class="t" style="left:391.70px;top:196.95px;font-size:4.9px;color:#9a9db2;letter-spacing:-0.016px;-webkit-text-stroke:0.08px #9a9db2;transform:scaleY(1.09);">Python, PostgreSQL, ReactJS</div>
<div class="t" style="left:480.90px;top:188.29px;font-size:5.4px;color:#181c32;font-weight:bold;letter-spacing:-0.143px;transform:scaleY(1.09);">The Hill</div>
<div class="t" style="left:480.90px;top:196.95px;font-size:4.9px;color:#9a9db2;letter-spacing:-0.002px;-webkit-text-stroke:0.08px #9a9db2;transform:scaleY(1.09);">Insurance</div>
<div class="t" style="left:539.00px;top:190.00px;font-size:5.0px;color:#7e8299;letter-spacing:-0.454px;-webkit-text-stroke:0.08px #7e8299;transform:scaleY(1.09);">50%</div>
<div class="abs" style="left:539.00px;top:197.85px;width:26.20px;height:1.90px;background:#f1f3f7;border-radius:1px;"></div>
<div class="abs" style="left:539.00px;top:197.85px;width:13.10px;height:1.90px;background:#ffc21a;border-radius:1px;"></div>
<div class="abs" style="left:581.20px;top:187.35px;width:13.40px;height:13.50px;background:#f3f6f9;border-radius:2px;"></div>
<svg class="abs" style="left:585.10px;top:191.25px;" width="5.6" height="5.6" viewBox="0 0 10 10"><rect x="0" y="0.4" width="10" height="4" rx="1.2" fill="#8b8fa7"/><rect x="1" y="1.6" width="8" height="1" rx=".5" fill="#f3f6f9" opacity=".35"/><rect x="0.6" y="5" width="9.4" height="4.4" rx="1.2" fill="#8b8fa7" opacity=".38"/><circle cx="2.4" cy="7.2" r="1" fill="#fff"/></svg>
<div class="abs" style="left:596.70px;top:187.35px;width:13.40px;height:13.50px;background:#f3f6f9;border-radius:2px;"></div>
<svg class="abs" style="left:600.60px;top:191.25px;" width="5.6" height="5.6" viewBox="0 0 10 10"><path d="M-0.4 10.2 L0.5 6.6 L6 1.1 Q7.2 -0.1 8.8 1.3 Q10.2 2.9 9 4.1 L3.5 9.5 Z" fill="#9a9db3"/><path d="M-0.4 10.2 L0.4 7.1 L2.8 9.4 Z" fill="#7e8299"/></svg>
<div class="abs" style="left:612.00px;top:187.35px;width:13.40px;height:13.50px;background:#f3f6f9;border-radius:2px;"></div>
<svg class="abs" style="left:615.90px;top:191.25px;" width="5.6" height="5.6" viewBox="0 0 10 10"><path d="M1.2 3.2 H8.8 V8.6 Q8.8 10 7.4 10 H2.6 Q1.2 10 1.2 8.6 Z" fill="#9a9db3"/><rect x="1.2" y="1.6" width="7.6" height="1.1" rx=".5" fill="#8f93a8" opacity=".55"/><rect x="3.8" y="0.6" width="2.4" height="1" rx=".4" fill="#8f93a8" opacity=".55"/></svg>
<div class="abs" style="left:351.2px;top:208.40px;width:274.2px;height:0;border-top:0.6px dotted #eef0f5"></div>
<div class="abs" style="left:351.20px;top:219.20px;width:7.60px;height:7.70px;background:#eef1f5;border-radius:1.8px;"></div>
<svg class="abs" style="left:366.7px;top:213.80px;border-radius:2.2px" width="18.4" height="18.4" viewBox="0 0 20 20"><defs><filter id="bl4" x="-10%" y="-10%" width="120%" height="120%"><feGaussianBlur stdDeviation=".55"/></filter></defs><g filter="url(#bl4)"><rect width="20" height="20" fill="#dcdcdf"/><g transform="translate(10 10.6) scale(1.36) translate(-10 -10.2)"><path d="M2.5 20 Q3.5 16.2 7.8 15.6 L12.2 15.6 Q16.5 16.2 17.5 20 Z" fill="#c9c9cc"/><rect x="8.1" y="13" width="3.8" height="3.4" fill="#dcae8e"/><ellipse cx="10" cy="9.8" rx="3.9" ry="5" fill="#ecc1a1"/><ellipse cx="5.9" cy="10.2" rx=".7" ry="1.2" fill="#e3b594"/><ellipse cx="14.1" cy="10.2" rx=".7" ry="1.2" fill="#e3b594"/><path d="M5.9 8.6 Q5.4 3 10 2.8 Q14.6 3 14.1 8.6 Q13.4 5.8 10 5.6 Q6.6 5.8 5.9 8.6 Z" fill="#b98d55"/><ellipse cx="8.3" cy="9.6" rx=".7" ry=".4" fill="#5a4a3c"/><ellipse cx="11.7" cy="9.6" rx=".7" ry=".4" fill="#5a4a3c"/><path d="M8.2 12.6 Q10 14.2 11.8 12.6 Q10 13.2 8.2 12.6 Z" fill="#fff" stroke="#c98a78" stroke-width=".4"/></g></g></svg>
<div class="t" style="left:391.70px;top:217.34px;font-size:5.4px;color:#181c32;font-weight:bold;letter-spacing:-0.109px;transform:scaleY(1.09);">Kevin Leonard</div>
<div class="t" style="left:391.70px;top:226.00px;font-size:4.9px;color:#9a9db2;letter-spacing:-0.039px;-webkit-text-stroke:0.08px #9a9db2;transform:scaleY(1.09);">HTML, JS, ReactJS</div>
<div class="t" style="left:480.90px;top:217.34px;font-size:5.4px;color:#181c32;font-weight:bold;letter-spacing:-0.034px;transform:scaleY(1.09);">RoadGee</div>
<div class="t" style="left:480.90px;top:226.00px;font-size:4.9px;color:#9a9db2;letter-spacing:0.202px;-webkit-text-stroke:0.08px #9a9db2;transform:scaleY(1.09);">Art Director</div>
<div class="t" style="left:539.00px;top:219.05px;font-size:5.0px;color:#7e8299;letter-spacing:-0.454px;-webkit-text-stroke:0.08px #7e8299;transform:scaleY(1.09);">90%</div>
<div class="abs" style="left:539.00px;top:226.90px;width:26.20px;height:1.90px;background:#f1f3f7;border-radius:1px;"></div>
<div class="abs" style="left:539.00px;top:226.90px;width:23.58px;height:1.90px;background:#8950fc;border-radius:1px;"></div>
<div class="abs" style="left:581.20px;top:216.40px;width:13.40px;height:13.50px;background:#f3f6f9;border-radius:2px;"></div>
<svg class="abs" style="left:585.10px;top:220.30px;" width="5.6" height="5.6" viewBox="0 0 10 10"><rect x="0" y="0.4" width="10" height="4" rx="1.2" fill="#8b8fa7"/><rect x="1" y="1.6" width="8" height="1" rx=".5" fill="#f3f6f9" opacity=".35"/><rect x="0.6" y="5" width="9.4" height="4.4" rx="1.2" fill="#8b8fa7" opacity=".38"/><circle cx="2.4" cy="7.2" r="1" fill="#fff"/></svg>
<div class="abs" style="left:596.70px;top:216.40px;width:13.40px;height:13.50px;background:#f3f6f9;border-radius:2px;"></div>
<svg class="abs" style="left:600.60px;top:220.30px;" width="5.6" height="5.6" viewBox="0 0 10 10"><path d="M-0.4 10.2 L0.5 6.6 L6 1.1 Q7.2 -0.1 8.8 1.3 Q10.2 2.9 9 4.1 L3.5 9.5 Z" fill="#9a9db3"/><path d="M-0.4 10.2 L0.4 7.1 L2.8 9.4 Z" fill="#7e8299"/></svg>
<div class="abs" style="left:612.00px;top:216.40px;width:13.40px;height:13.50px;background:#f3f6f9;border-radius:2px;"></div>
<svg class="abs" style="left:615.90px;top:220.30px;" width="5.6" height="5.6" viewBox="0 0 10 10"><path d="M1.2 3.2 H8.8 V8.6 Q8.8 10 7.4 10 H2.6 Q1.2 10 1.2 8.6 Z" fill="#9a9db3"/><rect x="1.2" y="1.6" width="7.6" height="1.1" rx=".5" fill="#8f93a8" opacity=".55"/><rect x="3.8" y="0.6" width="2.4" height="1" rx=".4" fill="#8f93a8" opacity=".55"/></svg>
<div class="abs" style="left:636.60px;top:159.50px;width:14.00px;height:32.00px;background:#fff;border-radius:2.5px;border-radius:2.5px 0 0 2.5px;box-shadow:-1px 0 3px rgba(60,70,100,.05);"></div>
<div class="abs" style="left:635.4px;top:159.5px;width:13.4px;height:32px;writing-mode:vertical-rl;text-align:center;line-height:13.4px;font-size:5.7px;color:#4b4f64;-webkit-text-stroke:.12px #4b4f64;letter-spacing:.05px;white-space:nowrap">Explore</div>
<div class="abs" style="left:184.5px;top:260.6px;width:144.3px;height:102.7px;background:#fff;border-radius:3.5px;overflow:hidden">
<svg class="abs" style="left:0;top:0" width="144.2" height="102.7" viewBox="0 0 144.2 102.7"><path d="M0 62.3 C12.02 62.3 12.02 62.3 24.03 62.3 C36.05 62.3 36.05 72.5 48.06 72.5 C60.08 72.5 60.08 72.5 72.10 72.5 C84.11 72.5 84.11 67.4 96.13 67.4 C108.14 67.4 108.14 67.4 120.16 67.4 C132.18 67.4 132.18 51.8 144.20 51.8 V102.7 H0 Z" fill="#fac6d4"/><path d="M0 62.3 C12.02 62.3 12.02 62.3 24.03 62.3 C36.05 62.3 36.05 72.5 48.06 72.5 C60.08 72.5 60.08 72.5 72.10 72.5 C84.11 72.5 84.11 67.4 96.13 67.4 C108.14 67.4 108.14 67.4 120.16 67.4 C132.18 67.4 132.18 51.8 144.20 51.8" fill="none" stroke="#f3476b" stroke-width="1.4"/></svg>
</div>
<div class="abs" style="left:196.3px;top:271.4px;width:20.2px;height:20.2px;border-radius:50%;background:#ffedf0"></div>
<svg class="abs" style="left:201.60px;top:276.70px;" width="9.6" height="9.6" viewBox="0 0 20 20"><rect x="1.5" y="1.5" width="7.6" height="7.6" rx="1.6" fill="#f64e60"/><rect x="10.9" y="1.5" width="7.6" height="7.6" rx="1.6" fill="#f64e60" opacity=".35"/><rect x="1.5" y="10.9" width="7.6" height="7.6" rx="1.6" fill="#f64e60" opacity=".35"/><rect x="10.9" y="10.9" width="7.6" height="7.6" rx="1.6" fill="#f64e60" opacity=".35"/></svg>
<div class="t" style="left:298.10px;top:273.51px;font-size:8.1px;color:#181c32;font-weight:bold;letter-spacing:0.160px;">750$</div>
<div class="t" style="left:281.10px;top:286.10px;font-size:5.1px;color:#a2a5b9;letter-spacing:0.061px;-webkit-text-stroke:0.08px #a2a5b9;transform:scaleY(1.09);">Weekly Income</div>
<div class="abs" style="left:184.5px;top:374.0px;width:144.3px;height:103px;background:#fff;border-radius:3.5px;overflow:hidden">
<svg class="abs" style="left:0;top:0" width="144.2" height="103" viewBox="0 0 144.2 103"><path d="M0 62.3 C12.02 62.3 12.02 62.3 24.03 62.3 C36.05 62.3 36.05 72.5 48.06 72.5 C60.08 72.5 60.08 72.5 72.10 72.5 C84.11 72.5 84.11 67.4 96.13 67.4 C108.14 67.4 108.14 67.4 120.16 67.4 C132.18 67.4 132.18 51.8 144.20 51.8 V103 H0 Z" fill="#b5e0ff"/><path d="M0 62.3 C12.02 62.3 12.02 62.3 24.03 62.3 C36.05 62.3 36.05 72.5 48.06 72.5 C60.08 72.5 60.08 72.5 72.10 72.5 C84.11 72.5 84.11 67.4 96.13 67.4 C108.14 67.4 108.14 67.4 120.16 67.4 C132.18 67.4 132.18 51.8 144.20 51.8" fill="none" stroke="#1b9cfc" stroke-width="1.4"/></svg>
</div>
<div class="abs" style="left:196.3px;top:384.8px;width:20.2px;height:20.2px;border-radius:50%;background:#e9f4ff"></div>
<svg class="abs" style="left:201.60px;top:390.10px;" width="9.6" height="9.6" viewBox="0 0 20 20"><path d="M10 1.5 V8" stroke="#3699ff" stroke-width="1.6" stroke-linecap="round" opacity=".5"/><rect x="1.5" y="7" width="17" height="2.6" rx="1.2" fill="#3699ff"/><path d="M3 10.6 H17 L15.8 16.4 Q15.5 17.6 14.2 17.6 H5.8 Q4.5 17.6 4.2 16.4 Z" fill="#3699ff" opacity=".55"/><path d="M7.5 11.5 V16.5 M10 11.5 V16.5 M12.5 11.5 V16.5" stroke="#fff" stroke-width="1" opacity=".9"/></svg>
<div class="t" style="left:298.30px;top:386.91px;font-size:8.1px;color:#181c32;font-weight:bold;letter-spacing:0.018px;">+259</div>
<div class="t" style="left:284.60px;top:399.50px;font-size:5.1px;color:#a2a5b9;letter-spacing:-0.004px;-webkit-text-stroke:0.08px #a2a5b9;transform:scaleY(1.09);">Sales Change</div>
<div class="abs" style="left:338.90px;top:260.90px;width:143.90px;height:216.10px;background:#fff;border-radius:3.5px;"></div>
<div class="t" style="left:351.10px;top:271.82px;font-size:6.75px;color:#181c32;font-weight:bold;letter-spacing:-0.000px;transform:scaleY(1.05);">My Competitors</div>
<div class="t" style="left:351.10px;top:282.38px;font-size:5.5px;color:#adb0c2;letter-spacing:0.082px;-webkit-text-stroke:0.08px #adb0c2;transform:scaleY(1.09);">More than 400+ new members</div>
<svg class="abs" style="left:466.00px;top:276.60px;" width="4.4" height="4.4" viewBox="0 0 10 10"><rect x="0" y="0" width="3.8" height="3.8" rx="1" fill="#1bc5bd"/><rect x="6" y="0" width="3.8" height="3.8" rx="1" fill="#1bc5bd" opacity=".35"/><rect x="0" y="6" width="3.8" height="3.8" rx="1" fill="#1bc5bd" opacity=".35"/><rect x="6" y="6" width="3.8" height="3.8" rx="1" fill="#1bc5bd" opacity=".35"/></svg>
<svg class="abs" style="left:351.1px;top:299.30px;border-radius:2.2px" width="36.6" height="24.4" viewBox="0 0 36 24" preserveAspectRatio="none"><defs><filter id="bi0" x="-10%" y="-10%" width="120%" height="120%"><feGaussianBlur stdDeviation=".35"/></filter></defs><g filter="url(#bi0)"><rect width="36" height="24" fill="#0f76c6"/><rect y="18" width="36" height="6" fill="#0e73c2"/><ellipse cx="17.5" cy="15.6" rx="5.4" ry="1.4" fill="#0a5ea6" opacity=".8"/><ellipse cx="20.2" cy="10.4" rx="3.4" ry="2.9" fill="#f5b019" transform="rotate(-25 20.2 10.4)"/><ellipse cx="21" cy="10" rx="1.6" ry="1.4" fill="#ffd24d" transform="rotate(-25 21 10)"/><ellipse cx="16" cy="12.6" rx="4.2" ry="3.2" fill="#1f8fe6" transform="rotate(-18 16 12.6)"/></g></svg>
<div class="t" style="left:392.70px;top:300.73px;font-size:5.6px;color:#2c3044;font-weight:bold;letter-spacing:-0.073px;transform:scaleY(1.08);">Cup &amp; Green</div>
<div class="t" style="left:392.70px;top:311.10px;font-size:4.9px;color:#a9acbf;letter-spacing:0.050px;-webkit-text-stroke:0.08px #a9acbf;transform:scaleY(1.09);">Study highway types</div>
<div class="t" style="left:392.70px;top:319.70px;font-size:4.9px;color:#a9acbf;letter-spacing:-0.040px;-webkit-text-stroke:0.08px #a9acbf;transform:scaleY(1.09);">By:</div>
<div class="t" style="left:401.00px;top:319.70px;font-size:4.9px;color:#14c2bc;font-weight:bold;letter-spacing:-0.222px;transform:scaleY(1.09);">CoreAd</div>
<div class="t" style="left:449.00px;top:303.98px;font-size:7.2px;color:#3f4254;font-weight:bold;letter-spacing:-0.004px;transform:scaleY(1.05);">24,900</div>
<div class="t" style="left:459.20px;top:315.70px;font-size:4.9px;color:#adb0c2;letter-spacing:-0.114px;-webkit-text-stroke:0.08px #adb0c2;transform:scaleY(1.09);">Sales</div>
<svg class="abs" style="left:351.1px;top:333.88px;border-radius:2.2px" width="36.6" height="24.4" viewBox="0 0 36 24" preserveAspectRatio="none"><defs><filter id="bi1" x="-10%" y="-10%" width="120%" height="120%"><feGaussianBlur stdDeviation=".35"/></filter></defs><g filter="url(#bi1)"><rect width="36" height="24" fill="#c6deec"/><rect y="17.5" width="36" height="6.5" fill="#d4e6f1"/><ellipse cx="17.4" cy="8.2" rx="3.9" ry="2.9" fill="#4e8a3d"/><ellipse cx="16.6" cy="7.6" rx="2" ry="1.6" fill="#6ba353"/><path d="M11.6 9.6 H23.2 V11.6 H22.6 V17.4 Q22.6 18.8 21.2 18.8 H13.6 Q12.2 18.8 12.2 17.4 V11.6 H11.6 Z" fill="#f2f3f4"/><rect x="11.6" y="9.6" width="11.6" height="1.9" rx=".6" fill="#fbfbfc"/><path d="M12.2 11.6 H22.6 V12.2 H12.2 Z" fill="#d9dde2"/></g></svg>
<div class="t" style="left:392.70px;top:335.31px;font-size:5.6px;color:#2c3044;font-weight:bold;letter-spacing:0.007px;transform:scaleY(1.08);">Yellow Hearts</div>
<div class="t" style="left:392.70px;top:345.68px;font-size:4.9px;color:#a9acbf;letter-spacing:0.050px;-webkit-text-stroke:0.08px #a9acbf;transform:scaleY(1.09);">Study highway types</div>
<div class="t" style="left:392.70px;top:354.28px;font-size:4.9px;color:#a9acbf;letter-spacing:-0.040px;-webkit-text-stroke:0.08px #a9acbf;transform:scaleY(1.09);">By:</div>
<div class="t" style="left:401.00px;top:354.28px;font-size:4.9px;color:#14c2bc;font-weight:bold;letter-spacing:-0.120px;transform:scaleY(1.09);">KeenThemes</div>
<div class="t" style="left:449.00px;top:338.56px;font-size:7.2px;color:#3f4254;font-weight:bold;letter-spacing:-0.004px;transform:scaleY(1.05);">70,380</div>
<div class="t" style="left:459.20px;top:350.28px;font-size:4.9px;color:#adb0c2;letter-spacing:-0.114px;-webkit-text-stroke:0.08px #adb0c2;transform:scaleY(1.09);">Sales</div>
<svg class="abs" style="left:351.1px;top:368.46px;border-radius:2.2px" width="36.6" height="24.4" viewBox="0 0 36 24" preserveAspectRatio="none"><defs><filter id="bi2" x="-10%" y="-10%" width="120%" height="120%"><feGaussianBlur stdDeviation=".35"/></filter></defs><g filter="url(#bi2)"><rect width="36" height="24" fill="#f1b3cd"/><g transform="translate(-2.6 0.2) translate(18 11.6) scale(1.18) translate(-18 -11.6)"><ellipse cx="18.4" cy="17.2" rx="4.6" ry="1.1" fill="#d998b6" opacity=".8"/><path d="M18 5.6 Q20.4 5.6 21.4 9.4 Q23.2 13 21.6 15.6 Q20.2 17.6 18 17.6 Q15.8 17.6 14.4 15.6 Q12.8 13 14.6 9.4 Q15.6 5.6 18 5.6 Z" fill="#4c6b22"/><path d="M18 6.8 Q19.8 6.8 20.6 9.8 Q22 12.8 20.8 14.9 Q19.8 16.5 18 16.5 Q16.2 16.5 15.2 14.9 Q14 12.8 15.4 9.8 Q16.2 6.8 18 6.8 Z" fill="#b9c845"/><ellipse cx="18.1" cy="12.6" rx="2.3" ry="2.5" fill="#8a5a24"/><ellipse cx="17.6" cy="12" rx="1" ry="1.1" fill="#a9752f"/></g></g></svg>
<div class="t" style="left:392.70px;top:369.89px;font-size:5.6px;color:#2c3044;font-weight:bold;letter-spacing:-0.012px;transform:scaleY(1.08);">Nike &amp; Blue</div>
<div class="t" style="left:392.70px;top:380.26px;font-size:4.9px;color:#a9acbf;letter-spacing:0.050px;-webkit-text-stroke:0.08px #a9acbf;transform:scaleY(1.09);">Study highway types</div>
<div class="t" style="left:392.70px;top:388.86px;font-size:4.9px;color:#a9acbf;letter-spacing:-0.040px;-webkit-text-stroke:0.08px #a9acbf;transform:scaleY(1.09);">By:</div>
<div class="t" style="left:401.00px;top:388.86px;font-size:4.9px;color:#14c2bc;font-weight:bold;letter-spacing:0.003px;transform:scaleY(1.09);">Invision Inc.</div>
<div class="t" style="left:453.00px;top:373.14px;font-size:7.2px;color:#3f4254;font-weight:bold;letter-spacing:-0.004px;transform:scaleY(1.05);">7,200</div>
<div class="t" style="left:459.20px;top:384.86px;font-size:4.9px;color:#adb0c2;letter-spacing:-0.114px;-webkit-text-stroke:0.08px #adb0c2;transform:scaleY(1.09);">Sales</div>
<svg class="abs" style="left:351.1px;top:403.04px;border-radius:2.2px" width="36.6" height="24.4" viewBox="0 0 36 24" preserveAspectRatio="none"><defs><filter id="bi3" x="-10%" y="-10%" width="120%" height="120%"><feGaussianBlur stdDeviation=".35"/></filter></defs><g filter="url(#bi3)"><rect width="36" height="24" fill="#fbbcc0"/><rect x="17.4" width="18.6" height="24" fill="#c7e8e3"/><circle cx="15.4" cy="6.6" r="1.3" fill="#d8d8d8"/><circle cx="19.8" cy="6.6" r="1.3" fill="#d8d8d8"/><path d="M14.6 16.6 L13.8 18.2 M20.6 16.6 L21.4 18.2" stroke="#bdbdbd" stroke-width=".8"/><circle cx="17.6" cy="12.2" r="5.1" fill="#d0d0d0"/><circle cx="17.6" cy="12.2" r="4.2" fill="#fafafa"/><path d="M17.6 9.4 V12.2 L19 13.4" fill="none" stroke="#8a8a8a" stroke-width=".6"/></g></svg>
<div class="t" style="left:392.70px;top:404.47px;font-size:5.6px;color:#2c3044;font-weight:bold;letter-spacing:-0.125px;transform:scaleY(1.08);">Red Boots</div>
<div class="t" style="left:392.70px;top:414.84px;font-size:4.9px;color:#a9acbf;letter-spacing:0.050px;-webkit-text-stroke:0.08px #a9acbf;transform:scaleY(1.09);">Study highway types</div>
<div class="t" style="left:392.70px;top:423.44px;font-size:4.9px;color:#a9acbf;letter-spacing:-0.040px;-webkit-text-stroke:0.08px #a9acbf;transform:scaleY(1.09);">By:</div>
<div class="t" style="left:401.00px;top:423.44px;font-size:4.9px;color:#14c2bc;font-weight:bold;letter-spacing:-0.097px;transform:scaleY(1.09);">Figma Studio</div>
<div class="t" style="left:449.00px;top:407.72px;font-size:7.2px;color:#3f4254;font-weight:bold;letter-spacing:-0.004px;transform:scaleY(1.05);">36,450</div>
<div class="t" style="left:459.20px;top:419.44px;font-size:4.9px;color:#adb0c2;letter-spacing:-0.114px;-webkit-text-stroke:0.08px #adb0c2;transform:scaleY(1.09);">Sales</div>
<svg class="abs" style="left:351.1px;top:437.62px;border-radius:2.2px" width="36.6" height="24.4" viewBox="0 0 36 24" preserveAspectRatio="none"><defs><filter id="bi4" x="-10%" y="-10%" width="120%" height="120%"><feGaussianBlur stdDeviation=".35"/></filter></defs><g filter="url(#bi4)"><rect width="36" height="24" fill="#9dd3d9"/><ellipse cx="18" cy="18.2" rx="5.6" ry="1.1" fill="#7fbcc4" opacity=".8"/><path d="M14.4 9.6 Q18.4 4.8 22 9 Q22.6 11.8 20.6 12.8 L15.6 12.4 Q13.6 11.6 14.4 9.6 Z" fill="#e43f6b"/><circle cx="15.2" cy="14.6" r="2.9" fill="#c9182b"/><circle cx="19.6" cy="15.2" r="2.9" fill="#d6202f"/><circle cx="17.2" cy="12.6" r="2.2" fill="#e02a3a"/><circle cx="14.4" cy="13.8" r=".8" fill="#ea5563"/><circle cx="19" cy="14.4" r=".8" fill="#ea5563"/></g></svg>
<div class="t" style="left:392.70px;top:439.05px;font-size:5.6px;color:#2c3044;font-weight:bold;letter-spacing:0.078px;transform:scaleY(1.08);">Desserts platter</div>
<div class="t" style="left:392.70px;top:449.42px;font-size:4.9px;color:#a9acbf;letter-spacing:0.060px;-webkit-text-stroke:0.08px #a9acbf;transform:scaleY(1.09);">Food trends &amp; reviews</div>
<div class="t" style="left:392.70px;top:458.02px;font-size:4.9px;color:#a9acbf;letter-spacing:-0.040px;-webkit-text-stroke:0.08px #a9acbf;transform:scaleY(1.09);">By:</div>
<div class="t" style="left:401.00px;top:458.02px;font-size:4.9px;color:#14c2bc;font-weight:bold;letter-spacing:-0.097px;transform:scaleY(1.09);">Figma Studio</div>
<div class="t" style="left:449.00px;top:442.30px;font-size:7.2px;color:#3f4254;font-weight:bold;letter-spacing:-0.004px;transform:scaleY(1.05);">64,753</div>
<div class="t" style="left:459.20px;top:454.02px;font-size:4.9px;color:#adb0c2;letter-spacing:-0.114px;-webkit-text-stroke:0.08px #adb0c2;transform:scaleY(1.09);">Sales</div>
<div class="abs" style="left:494.00px;top:260.90px;width:143.10px;height:216.10px;background:#fff;border-radius:3.5px;"></div>
<div class="t" style="left:505.40px;top:272.01px;font-size:6.4px;color:#181c32;font-weight:bold;letter-spacing:-0.037px;transform:scaleY(1.05);">Trends</div>
<div class="t" style="left:505.40px;top:280.95px;font-size:5.0px;color:#a5a8bc;letter-spacing:0.027px;-webkit-text-stroke:0.08px #a5a8bc;transform:scaleY(1.09);">Latest tech trends</div>
<svg class="abs" style="left:616.60px;top:276.20px;" width="4.4" height="4.4" viewBox="0 0 10 10"><rect x="0" y="0" width="3.8" height="3.8" rx="1" fill="#1bc5bd"/><rect x="6" y="0" width="3.8" height="3.8" rx="1" fill="#1bc5bd" opacity=".35"/><rect x="0" y="6" width="3.8" height="3.8" rx="1" fill="#1bc5bd" opacity=".35"/><rect x="6" y="6" width="3.8" height="3.8" rx="1" fill="#1bc5bd" opacity=".35"/></svg>
<div class="abs" style="left:505.40px;top:295.90px;width:20.10px;height:20.10px;background:#f3f6f9;border-radius:2.5px;"></div>
<svg class="abs" style="left:510.20px;top:300.70px;" width="10.5" height="10.5" viewBox="0 0 10 10"><path d="M3.4 9.2 V3.6 A2.4 2.4 0 0 1 8.2 3.6 A2.4 2.4 0 0 1 5.8 6 H3.6" fill="none" stroke="#e8222c" stroke-width="2.6" stroke-linecap="round" stroke-linejoin="round"/><path d="M3.4 9.2 V3.6 A2.4 2.4 0 0 1 8.2 3.6 A2.4 2.4 0 0 1 5.8 6 H4.4" fill="none" stroke="#fff" stroke-width="1" stroke-linecap="round" stroke-linejoin="round"/></svg>
<div class="t" style="left:532.40px;top:299.78px;font-size:5.5px;color:#23273b;font-weight:bold;letter-spacing:-0.158px;transform:scaleY(1.12);">Top Authors</div>
<div class="t" style="left:532.40px;top:308.50px;font-size:4.9px;color:#a1a4b8;letter-spacing:0.004px;-webkit-text-stroke:0.08px #a1a4b8;transform:scaleY(1.09);">Mark, Rowling, Esther</div>
<div class="abs" style="left:608.10px;top:301.90px;width:16.80px;height:8.20px;background:#f3f6f9;border-radius:1.8px;"></div>
<div class="t" style="left:611.40px;top:304.37px;font-size:4.4px;color:#6c7087;font-weight:bold;letter-spacing:0.096px;transform:scaleY(1.09);">+82$</div>
<div class="abs" style="left:505.40px;top:325.42px;width:20.10px;height:20.10px;background:#f3f6f9;border-radius:2.5px;"></div>
<svg class="abs" style="left:510.20px;top:330.22px;" width="10.5" height="10.5" viewBox="0 0 10 10"><circle cx="5" cy="5" r="5" fill="#1d9ee2"/><path d="M2 5 L8 2.4 L7 7.8 L5 6.4 L4.2 7.4 L4 5.8 L6.6 3.6 L3.4 5.5 Z" fill="#fff"/></svg>
<div class="t" style="left:532.40px;top:329.30px;font-size:5.5px;color:#23273b;font-weight:bold;letter-spacing:-0.099px;transform:scaleY(1.12);">Popular Authors</div>
<div class="t" style="left:532.40px;top:338.02px;font-size:4.9px;color:#a1a4b8;letter-spacing:-0.037px;-webkit-text-stroke:0.08px #a1a4b8;transform:scaleY(1.09);">Randy, Steve, Mike</div>
<div class="abs" style="left:605.30px;top:331.42px;width:19.60px;height:8.20px;background:#f3f6f9;border-radius:1.8px;"></div>
<div class="t" style="left:608.60px;top:333.89px;font-size:4.4px;color:#6c7087;font-weight:bold;letter-spacing:0.161px;transform:scaleY(1.09);">+280$</div>
<div class="abs" style="left:505.40px;top:354.94px;width:20.10px;height:20.10px;background:#f3f6f9;border-radius:2.5px;"></div>
<svg class="abs" style="left:510.20px;top:359.74px;" width="10.5" height="10.5" viewBox="0 0 10 10"><path d="M0.5 3.9 Q2.2 1.6 3.2 3 Q3.8 4 4.3 6.6 Q4.5 7.4 5.2 6.6 Q7 4.4 6.7 3.6 Q6.4 3 5.4 3.5 Q6.4 0.9 8.4 1.4 Q10.3 2.2 8.4 5.6 Q6.2 9.4 4.4 9.4 Q3 9.4 2.4 6.8 Q1.9 4.6 1.5 4.4 Q1.2 4.3 0.9 4.5 Z" fill="#2f80fa" stroke="#2f80fa" stroke-width=".5" stroke-linejoin="round"/></svg>
<div class="t" style="left:532.40px;top:358.82px;font-size:5.5px;color:#23273b;font-weight:bold;letter-spacing:-0.203px;transform:scaleY(1.12);">New Users</div>
<div class="t" style="left:532.40px;top:367.54px;font-size:4.9px;color:#a1a4b8;letter-spacing:0.028px;-webkit-text-stroke:0.08px #a1a4b8;transform:scaleY(1.09);">John, Pat, Jimmy</div>
<div class="abs" style="left:603.00px;top:360.94px;width:21.90px;height:8.20px;background:#f3f6f9;border-radius:1.8px;"></div>
<div class="t" style="left:606.30px;top:363.41px;font-size:4.4px;color:#6c7087;font-weight:bold;letter-spacing:0.099px;transform:scaleY(1.09);">+4500$</div>
<div class="abs" style="left:505.40px;top:384.46px;width:20.10px;height:20.10px;background:#f3f6f9;border-radius:2.5px;"></div>
<svg class="abs" style="left:510.20px;top:389.26px;" width="10.5" height="10.5" viewBox="0 0 10 10"><path d="M2.5 1.2 V6.3 A2.5 2.5 0 1 0 5 3.8 H4.1" fill="none" stroke="#e9212d" stroke-width="2.1" stroke-linecap="round"/></svg>
<div class="t" style="left:532.40px;top:388.34px;font-size:5.5px;color:#23273b;font-weight:bold;letter-spacing:-0.084px;transform:scaleY(1.12);">Active Customers</div>
<div class="t" style="left:532.40px;top:397.06px;font-size:4.9px;color:#a1a4b8;letter-spacing:0.004px;-webkit-text-stroke:0.08px #a1a4b8;transform:scaleY(1.09);">Mark, Rowling, Esther</div>
<div class="abs" style="left:604.90px;top:390.46px;width:20.00px;height:8.20px;background:#f3f6f9;border-radius:1.8px;"></div>
<div class="t" style="left:608.20px;top:392.93px;font-size:4.4px;color:#6c7087;font-weight:bold;letter-spacing:0.261px;transform:scaleY(1.09);">+686$</div>
<div class="abs" style="left:505.40px;top:413.98px;width:20.10px;height:20.10px;background:#f3f6f9;border-radius:2.5px;"></div>
<svg class="abs" style="left:510.20px;top:418.78px;" width="10.5" height="10.5" viewBox="0 0 10 10"><path d="M7.3 2.2 L4.6 5 L7.3 7.8" fill="none" stroke="#69db86" stroke-width="3.2" stroke-linecap="round" stroke-linejoin="round"/><rect x="1" y="0.5" width="3.4" height="9" rx="1.7" fill="#55cf74"/></svg>
<div class="t" style="left:532.40px;top:417.86px;font-size:5.5px;color:#23273b;font-weight:bold;letter-spacing:-0.070px;transform:scaleY(1.12);">Bestseller Theme</div>
<div class="t" style="left:532.40px;top:426.58px;font-size:4.9px;color:#a1a4b8;letter-spacing:0.008px;-webkit-text-stroke:0.08px #a1a4b8;transform:scaleY(1.09);">Disco, Retro, Sports</div>
<div class="abs" style="left:604.90px;top:419.98px;width:20.00px;height:8.20px;background:#f3f6f9;border-radius:1.8px;"></div>
<div class="t" style="left:608.20px;top:422.45px;font-size:4.4px;color:#6c7087;font-weight:bold;letter-spacing:0.261px;transform:scaleY(1.09);">+726$</div>
<div class="abs" style="left:505.40px;top:443.50px;width:20.10px;height:20.10px;background:#f3f6f9;border-radius:2.5px;"></div>
<svg class="abs" style="left:510.20px;top:448.30px;" width="10.5" height="10.5" viewBox="0 0 10 10"><path d="M0.2 0.6 L3.4 3 H6.6 L9.8 0.6 L9.2 5.6 L5 9.8 L0.8 5.6 Z" fill="#f4511e"/><path d="M0.2 0.6 L3.4 3 L2.2 5.2 Z M9.8 0.6 L6.6 3 L7.8 5.2 Z" fill="#d02a13"/><path d="M3.2 6.2 L5 9.8 L6.8 6.2 L5 7.2 Z" fill="#7a1408"/></svg>
<div class="t" style="left:532.40px;top:447.38px;font-size:5.5px;color:#23273b;font-weight:bold;letter-spacing:-0.196px;transform:scaleY(1.12);">Fox Broker App</div>
<div class="t" style="left:532.40px;top:456.10px;font-size:4.9px;color:#a1a4b8;letter-spacing:0.019px;-webkit-text-stroke:0.08px #a1a4b8;transform:scaleY(1.09);">Finance, Corporate, Apps</div>
<div class="abs" style="left:604.90px;top:449.50px;width:20.00px;height:8.20px;background:#f3f6f9;border-radius:1.8px;"></div>
<div class="t" style="left:608.20px;top:451.97px;font-size:4.4px;color:#6c7087;font-weight:bold;letter-spacing:0.261px;transform:scaleY(1.09);">+145$</div>
<div class="abs" style="left:184.50px;top:487.60px;width:144.40px;height:30.00px;background:#fff;border-radius:3.5px;"></div>
<div class="abs" style="left:338.90px;top:487.60px;width:298.30px;height:30.00px;background:#fff;border-radius:3.5px;"></div>
<div class="t" style="left:196.30px;top:499.10px;font-size:6.6px;color:#181c32;font-weight:bold;transform:scaleY(1.05);">Tasks</div>
<svg class="abs" style="left:308.40px;top:498.40px;" width="4.4" height="4.4" viewBox="0 0 10 10"><rect x="0" y="0" width="3.8" height="3.8" rx="1" fill="#1bc5bd"/><rect x="6" y="0" width="3.8" height="3.8" rx="1" fill="#1bc5bd" opacity=".35"/><rect x="0" y="6" width="3.8" height="3.8" rx="1" fill="#1bc5bd" opacity=".35"/><rect x="6" y="6" width="3.8" height="3.8" rx="1" fill="#1bc5bd" opacity=".35"/></svg>
<div class="t" style="left:351.00px;top:498.90px;font-size:6.8px;color:#181c32;font-weight:bold;letter-spacing:0.001px;transform:scaleY(1.05);">Members Statistics</div>
<div class="abs" style="left:572.00px;top:498.20px;width:53.40px;height:13.50px;background:#f3f6f9;border-radius:2px;"></div>
</div>
</body>
</html>
